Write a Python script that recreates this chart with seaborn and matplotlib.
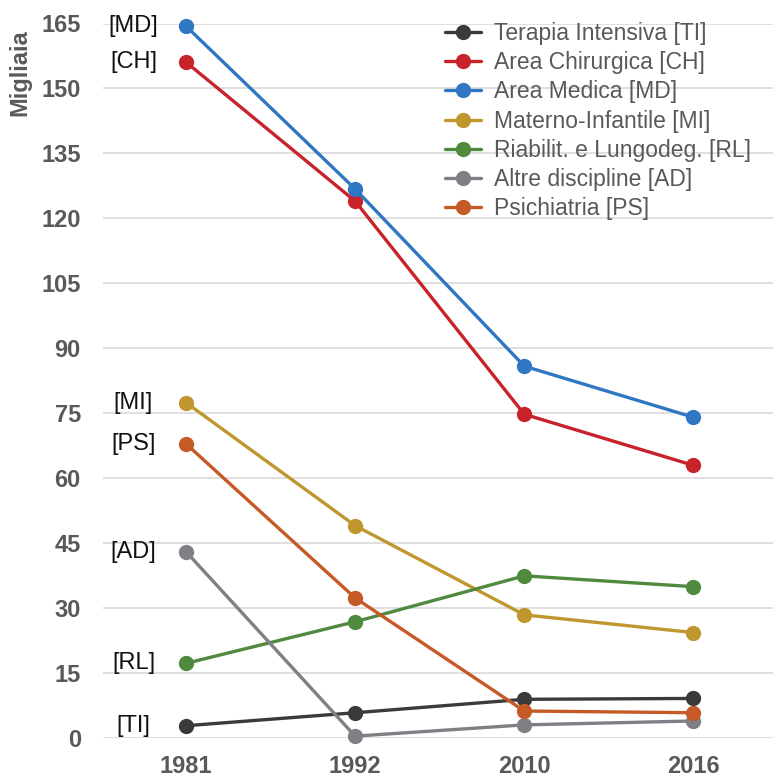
import matplotlib
matplotlib.use("Agg")
import matplotlib.pyplot as plt
import seaborn as sns
import pandas as pd
from matplotlib.lines import Line2D

years = ["1981", "1992", "2010", "2016"]
series = ["Terapia Intensiva [TI]", "Area Chirurgica [CH]", "Area Medica [MD]",
          "Materno-Infantile [MI]", "Riabilit. e Lungodeg. [RL]",
          "Altre discipline [AD]", "Psichiatria [PS]"]
short = ["[TI]", "[CH]", "[MD]", "[MI]", "[RL]", "[AD]", "[PS]"]
ti = [2.9, 5.9, 9.0, 9.2]
ch = [156.1, 124.0, 74.8, 63.0]
md = [164.4, 126.8, 85.9, 74.1]
mi = [77.5, 49.1, 28.5, 24.4]
rl = [17.3, 26.9, 37.5, 35.0]
ad = [43.1, 0.5, 3.1, 4.0]
ps = [68.0, 32.4, 6.3, 5.9]
values = [ti, ch, md, mi, rl, ad, ps]
colors = ["#3a3a3c", "#c8222b", "#2f76c3", "#c0962f", "#4f8a3e", "#7f7f85", "#c55a27"]
yticks = list(range(0, 166, 15))

rows = []
for s, vals in zip(series, values):
    for y, v in zip(years, vals):
        rows.append({"year": y, "value": v, "series": s})
df = pd.DataFrame(rows)

sns.set_style("white")
plt.rcParams["font.family"] = ["Liberation Sans", "DejaVu Sans"]

fig = plt.figure(figsize=(7.73, 7.80), dpi=100)
ax = fig.add_axes([103/773, 1-738.3/780, 1-103/773, (738.3-23.5)/780])

sns.lineplot(data=df, x="year", y="value", hue="series", hue_order=series,
             palette=dict(zip(series, colors)), marker="o", markersize=11,
             markeredgewidth=0, linewidth=2.4, ax=ax, legend=False, sort=False)
for l in ax.lines:
    l.set_clip_on(False)

ax.set_xlim(-0.49, 3.47)
ax.set_ylim(0, 165)
ax.set_yticks(yticks)
ax.grid(axis="y", color="#d9d9d9", linewidth=1.2)
ax.set_axisbelow(True)
for sp in ax.spines.values():
    sp.set_visible(False)
ax.set_xlabel("")
ax.set_ylabel("")
ax.tick_params(axis="both", length=0, labelsize=17, labelcolor="#595959")
ax.tick_params(axis="x", pad=12)
ax.tick_params(axis="y", pad=16)
for t in ax.get_xticklabels() + ax.get_yticklabels():
    t.set_fontweight("bold")

for lab, vals in zip(short, values):
    ax.text(-0.31, vals[0], lab, ha="center", va="center", fontsize=17, color="#111111")

fig.text(20/773, 1-73/780, "Migliaia", rotation=90, ha="center", va="center",
         fontsize=17, fontweight="bold", color="#595959")

handles = [Line2D([0], [0], color=c, lw=2.4, marker="o", markersize=11, markeredgewidth=0)
           for c in colors]
leg = fig.legend(handles, series, loc="upper left", bbox_to_anchor=(445/773, 1-22/780),
                 frameon=False, fontsize=16.5, handlelength=1.55, handletextpad=0.6,
                 labelspacing=0.27, borderaxespad=0, borderpad=0)
for t in leg.get_texts():
    t.set_color("#595959")

fig.savefig("out.png", dpi=100)
